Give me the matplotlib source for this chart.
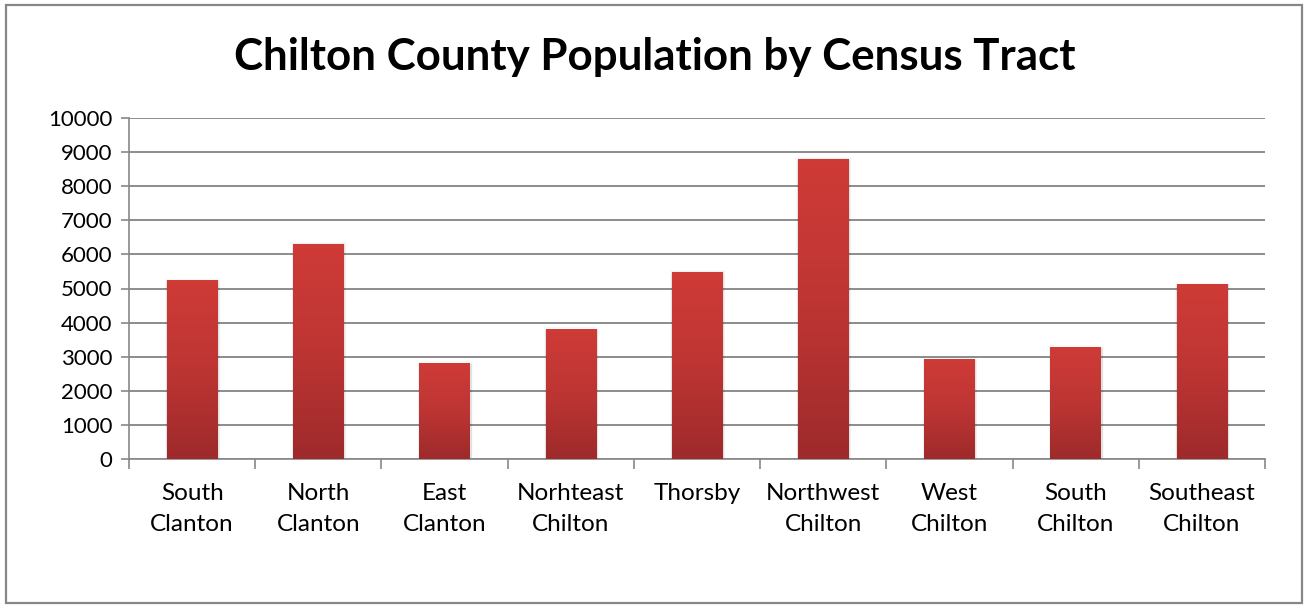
import matplotlib
matplotlib.use("Agg")
import matplotlib.pyplot as plt
import numpy as np
from matplotlib.colors import LinearSegmentedColormap
from matplotlib.patches import Rectangle

categories = ["South\nClanton", "North\nClanton", "East\nClanton", "Norhteast\nChilton",
              "Thorsby", "Northwest\nChilton", "West\nChilton", "South\nChilton", "Southeast\nChilton"]
population = [5240, 6300, 2805, 3800, 5480, 8800, 2920, 3275, 5125]
yticks = list(range(0, 10001, 1000))
title = "Chilton County Population by Census Tract"

plt.rcParams['font.family'] = ['Lato', 'DejaVu Sans']

fig = plt.figure(figsize=(13.04, 6.05), dpi=100)
fig.patch.set_facecolor("white")
fig.patches.append(Rectangle((6/1304, 2/605), 1296/1304, 598/605, transform=fig.transFigure,
                             fill=False, edgecolor="#878787", linewidth=1.6))

ax = fig.add_axes([129/1304, 1 - 459/605, (1265-129)/1304, (459-118)/605])
x = np.arange(len(categories))
bars = ax.bar(x, population, width=0.4, color="#C0393A", zorder=3, linewidth=0)

cmap = LinearSegmentedColormap.from_list("g", ["#9E2A2B", "#BD3533", "#CF3B37"])
grad = np.linspace(0, 1, 256).reshape(-1, 1)
for b in bars:
    bx, by = b.get_x(), b.get_y()
    w, h = b.get_width(), b.get_height()
    # soft shadow
    for i, a in enumerate([0.06, 0.04, 0.02]):
        ax.add_patch(Rectangle((bx - 0.004*(i+1), by), w + 0.008*(i+1) + 0.01, h + 40*(i+1) - 60,
                               facecolor="black", alpha=a, linewidth=0, zorder=2.5))
    im = ax.imshow(grad, cmap=cmap, aspect="auto", extent=(bx, bx + w, by, by + h),
                   origin="lower", zorder=3.5)
    im.set_clip_path(b)

ax.set_xlim(-0.5, len(categories) - 0.5)
ax.set_ylim(0, 10000)
ax.set_yticks(yticks)
ax.set_yticklabels([str(v) for v in yticks], fontsize=16, color="black")
ax.set_xticks(x)
ax.set_xticklabels(categories, fontsize=17.5, color="black", linespacing=1.64)
ax.set_xticks(np.arange(-0.5, len(categories), 1), minor=True)
ax.tick_params(axis="x", which="major", length=0, pad=17)
ax.tick_params(axis="x", which="minor", length=7, width=1.2, color="#878787")
ax.tick_params(axis="y", length=6, width=1.2, color="#878787", pad=6)
ax.grid(axis="y", color="#8C8C8C", linewidth=1.4, zorder=1)
ax.set_axisbelow(True)
for s in ["top", "right"]:
    ax.spines[s].set_visible(False)
for s in ["left", "bottom"]:
    ax.spines[s].set_color("#878787")
    ax.spines[s].set_linewidth(1.2)

fig.text(655/1304, 1 - 57/605, title, ha="center", va="center", fontsize=31.6, fontweight="bold")

fig.savefig("out.png", dpi=100, facecolor="white")
